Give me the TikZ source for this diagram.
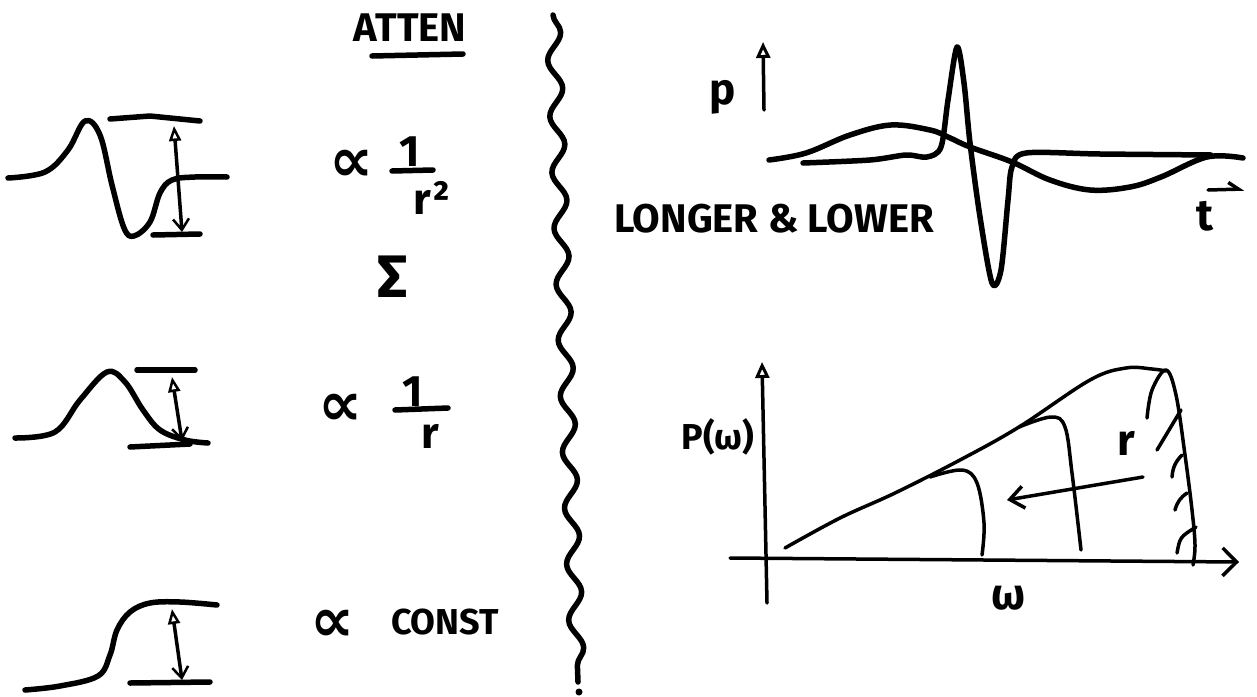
\documentclass[tikz,border=0pt]{standalone}
\usepackage{fontspec}
\setsansfont{Fira Sans}
\newfontfamily\symfont{DejaVu Sans}
\usetikzlibrary{arrows.meta,decorations.pathmorphing}
\begin{document}
\begin{tikzpicture}[x=1pt,y=-1pt,
  pen/.style={line width=5.5pt,line cap=round,line join=round},
  fine/.style={line width=3.5pt,line cap=round,line join=round},
  amp/.style={fine,{Triangle[open,length=15pt,width=12pt,line width=2.5pt]}-{Straight Barb[length=11pt,width=16pt,line width=2.5pt]}},
  upaxis/.style={fine,-{Triangle[open,length=16pt,width=14pt,line width=3pt]}},
  raxis/.style={fine,-{Straight Barb[length=14pt,width=28pt,line width=3.5pt]}},
  label/.style={font=\fontsize{36}{38}\selectfont\sffamily\bfseries},
  big/.style={font=\fontsize{44}{46}\selectfont\sffamily\bfseries},
  prop/.style={font=\fontsize{62}{64}\selectfont\symfont\bfseries},
  every node/.style={inner sep=0pt}]
\useasboundingbox (0,0) rectangle (1257,696);

% left column: pulse shapes with their heights
\draw[pen] plot[smooth,tension=0.6] coordinates {(8,178) (45,172) (68,150) (85,121) (100,135) (112,185) (124,228) (134,236) (150,222) (160,193) (172,180) (195,177) (227,177)};
\draw[pen] (110,119) -- (150,116) -- (200,121);
\draw[pen] (153,235) -- (200,234);
\coordinate (a1top) at (174,126);
\coordinate (a1bot) at (182,232);
\draw[amp] (a1top) -- (a1bot);

\draw[pen] plot[smooth,tension=0.6] coordinates {(15,438) (55,432) (80,400) (107,372) (125,382) (143,410) (160,430) (185,440) (208,443)};
\draw[pen] (137,370) -- (195,370);
\draw[pen] (130,447) -- (190,444);
\coordinate (a2top) at (172,377);
\coordinate (a2bot) at (182,441);
\draw[amp] (a2top) -- (a2bot);

\draw[pen] plot[smooth,tension=0.6] coordinates {(25,690) (60,686) (98,676) (110,655) (117,630) (130,612) (150,603) (180,602) (217,605)};
\draw[pen] (130,683) -- (210,682);
\coordinate (a3top) at (172,609);
\coordinate (a3bot) at (182,680);
\draw[amp] (a3top) -- (a3bot);

% attenuation column
\node[label,font=\fontsize{40}{42}\selectfont\sffamily\bfseries] (atten) at (410,28) {ATTEN};
\draw[pen] (372,56) -- (463,54);
\node[prop] (prop1) at (352,166) {∝};
\node[big] (one1) at (410,152) {1};
\draw[pen] (392,171) -- (433,170);
\node[big] (rsq1) at (432,198) {r²};
\node[font=\fontsize{60}{62}\selectfont\sffamily\bfseries] (sig) at (393,277) {Σ};
\node[prop] (prop2) at (341,410) {∝};
\node[big] (one2) at (413,392) {1};
\draw[pen] (395,410) -- (448,408);
\node[big] (r2) at (430,436) {r};
\node[prop] (prop3) at (333,626) {∝};
\node[label] (const) at (445,622) {CONST};

% dividing line
\coordinate (wtop) at (553,15);
\coordinate (wbot) at (578,682);
\draw[pen,decorate,decoration={snake,segment length=56pt,amplitude=7pt}] (wtop) -- (wbot);
\fill (579,692) circle (3.5pt);

% top right: pressure against time
\node[big] (plab) at (723,97) {p};
\coordinate (pbase) at (764,110);
\coordinate (ptip) at (763,42);
\draw[upaxis] (pbase) -- (ptip);
\draw[pen] plot[smooth,tension=0.5] coordinates {(803,163) (870,160) (906,155) (927,157) (941,147) (948,100) (957,47) (964,83) (970,143) (980,217) (992,283) (1001,270) (1008,200) (1012,167) (1026,153) (1100,154) (1211,155)};
\draw[pen] plot[smooth,tension=0.6] coordinates {(769,160) (806,153) (850,135) (891,125) (930,130) (948,137) (970,147) (1012,162) (1050,180) (1090,190) (1130,187) (1161,177) (1207,157) (1243,158)};
\node[label,font=\fontsize{40}{42}\selectfont\sffamily\bfseries] (longer) at (774,219) {LONGER \& LOWER};
\node[big] (tlab) at (1205,216) {t};
\coordinate (tarr1) at (1208,190);
\coordinate (tarr2) at (1244,189);
\draw[fine,-{Straight Barb[left,length=10pt,width=14pt]}] (tarr1) -- (tarr2);

% bottom right: spectrum
\coordinate (yaxbot) at (767,603);
\coordinate (yaxtop) at (762,362);
\draw[upaxis] (yaxbot) -- (yaxtop);
\coordinate (xaxl) at (730,558);
\coordinate (xaxr) at (1239,562);
\draw[raxis] (xaxl) -- (xaxr);
\node[label] (pw) at (718,437) {P(ω)};
\node[big] (wlab) at (1009,598) {ω};
\draw[fine] plot[smooth,tension=0.6] coordinates {(785,548) (840,518) (895,493) (960,460) (1019,427) (1090,380) (1126,368) (1152,369) (1166,371)};
\draw[fine] plot[smooth,tension=0.6] coordinates {(1147,418) (1152,390) (1166,370) (1176,395) (1185,455) (1192,510) (1195,545) (1193,565)};
\draw[fine] (1157,450) -- (1181,410);
\draw[fine] (1172,477) to[bend left=20] (1182,455);
\draw[fine] (1175,510) to[bend left=20] (1187,493);
\draw[fine] (1177,553) .. controls (1180,537) .. (1196,527);
\draw[fine] plot[smooth,tension=0.6] coordinates {(1019,427) (1051,417) (1065,427) (1072,473) (1081,550)};
\draw[fine] plot[smooth,tension=0.6] coordinates {(930,477) (962,470) (977,483) (984,523) (982,555)};
\coordinate (rstart) at (1143,477);
\coordinate (rend) at (1007,500);
\draw[fine,-{Straight Barb[length=14pt,width=22pt]}] (rstart) -- (rend);
\node[big] (rlab) at (1126,443) {r};
\end{tikzpicture}
\end{document}
